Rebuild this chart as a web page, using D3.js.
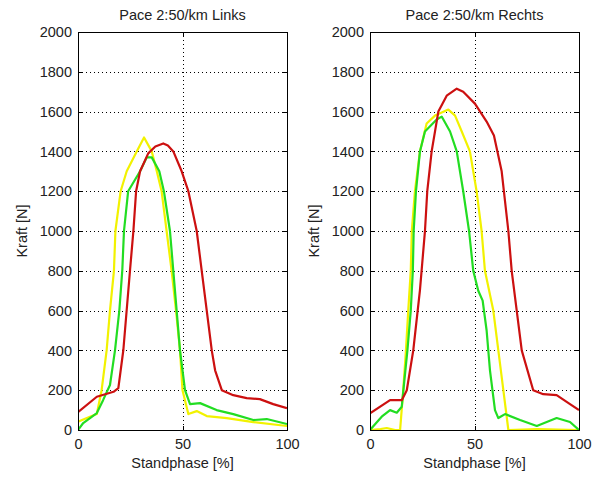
<!DOCTYPE html>
<html lang="de">
<head>
<meta charset="UTF-8"/>
<title>Pace 2:50/km</title>
<script src="https://d3js.org/d3.v7.min.js"></script>
<style>
  body { margin: 0; background: #fff; }
  text { font-family: "Liberation Sans", Arial, sans-serif; font-size: 14.5px; fill: #222; }
  .frame { fill: none; stroke: #000; stroke-width: 1; shape-rendering: crispEdges; }
  .grid line { stroke: #000; stroke-dasharray: 1, 3; shape-rendering: crispEdges; }
  .grid path { display: none; }
  .axis path { display: none; }
  .axis line { stroke: #000; shape-rendering: crispEdges; }
  .curve { fill: none; stroke-width: 2.2; stroke-linejoin: round; }
</style>
</head>
<body>
<script>
// values: [Standphase %, Kraft N]
const linksRot = [[0,90],[9,167],[17,192],[19.3,210],[21.7,402],[24.9,804],[26.5,1000],[27.8,1200],[29.7,1300],[33.6,1390],[37,1425],[40.8,1440],[43,1430],[45.6,1400],[49.6,1300],[52.8,1200],[56.8,1000],[59.2,800],[61.6,600],[64,400],[65.6,300],[68.8,200],[74.3,175],[80.7,160],[87,155],[93.4,130],[100,110]]
const linksGruen = [[0,0],[2.5,35],[9,85],[12,150],[15.3,226],[17.7,400],[19.8,603],[21.2,804],[22,1000],[24,1200],[29.7,1300],[32.9,1370],[35.3,1370],[38.9,1300],[41.1,1200],[44,1000],[45.6,800],[47.2,600],[48.8,400],[51.2,200],[53.6,130],[58.4,135],[66.3,100],[74.3,80],[83.9,50],[90.3,55],[100,30]]
const linksGelb = [[0,42],[5.7,67],[9,80],[11.3,200],[13.7,400],[15.3,600],[17.2,800],[17.9,1000],[20.4,1200],[23.3,1300],[28.1,1400],[31.6,1470],[35.3,1400],[37.7,1300],[40,1200],[42.4,1000],[44.8,800],[46.9,600],[48.8,400],[50,200],[52.8,80],[56.8,95],[61.6,70],[71.2,60],[83.9,40],[100,20]]

const rechtsRot = [[0,84],[9.6,150],[15.2,150],[17.6,200],[20.7,400],[23.9,703],[26.3,1000],[27.4,1200],[29.5,1400],[32.7,1600],[36.7,1680],[41.5,1715],[44.6,1700],[50.2,1640],[55.8,1550],[59.3,1480],[63,1300],[66.2,1000],[67.8,800],[70.2,600],[72.6,400],[78.1,200],[82.9,180],[89.3,175],[95.7,130],[100,100]]
const rechtsGruen = [[0,0],[5.6,67],[9.6,100],[12.8,87],[15.2,117],[16.3,234],[17.9,400],[19.5,600],[20.5,800],[20.9,1000],[22,1200],[23.9,1400],[26.3,1500],[31.9,1560],[34.3,1575],[38.3,1500],[41.5,1400],[44.6,1200],[47.4,1000],[49.4,800],[51.8,700],[53.9,650],[55.8,500],[57.4,300],[59.8,100],[61.4,60],[64.6,80],[71.8,50],[79.8,20],[89.3,60],[95.7,40],[100,0]]
const rechtsGelb = [[0,0],[5,5],[8,10],[12,0],[14.4,0],[15.9,200],[17.2,400],[18.3,600],[19.5,800],[20,1000],[21.5,1200],[23.9,1400],[27.1,1540],[31.1,1580],[37.5,1610],[40.7,1580],[43.9,1500],[47.8,1400],[51,1200],[53.4,1000],[55,800],[59,600],[61.4,400],[63.8,200],[66.2,0],[80,5],[100,0]]

const xTicks = [0, 50, 100]
const yTicks = [0, 200, 400, 600, 800, 1000, 1200, 1400, 1600, 1800, 2000]
const colours = { gelb: "#f2f200", gruen: "#22dd22", rot: "#cc1010" }

const panels = [
  { title: "Pace 2:50/km Links", left: 78, series: [["gelb", linksGelb], ["gruen", linksGruen], ["rot", linksRot]] },
  { title: "Pace 2:50/km Rechts", left: 370, series: [["gelb", rechtsGelb], ["gruen", rechtsGruen], ["rot", rechtsRot]] }
]

const plotTop = 32, width = 209, height = 398

const svg = d3.select("body").append("svg")
    .attr("width", 598)
    .attr("height", 477)

panels.forEach((p, i) => {
  const x = d3.scaleLinear().domain([0, 100]).range([0, width])
  const y = d3.scaleLinear().domain([0, 2000]).range([height, 0])

  const g = svg.append("g").attr("transform", `translate(${p.left}, ${plotTop})`)

  g.append("clipPath").attr("id", "clip" + i)
    .append("rect").attr("width", width).attr("height", height)

  // dotted grid
  g.append("g").attr("class", "grid")
      .call(d3.axisLeft(y).tickValues(yTicks.slice(1, -1)).tickSize(-width).tickFormat(""))
  g.append("g").attr("class", "grid")
      .call(d3.axisBottom(x).tickValues([50]).tickSize(height).tickFormat(""))

  const line = d3.line().x(d => x(d[0])).y(d => y(d[1]))
  g.append("g").attr("clip-path", `url(#clip${i})`)
    .selectAll("path")
    .data(p.series)
    .join("path")
      .attr("class", "curve")
      .attr("stroke", d => colours[d[0]])
      .attr("d", d => line(d[1]))

  // axes with inward ticks
  g.append("g").attr("class", "axis")
      .call(d3.axisLeft(y).tickValues(yTicks).tickSize(-4).tickPadding(6).tickFormat(d3.format("d")))
  g.append("g").attr("class", "axis")
      .attr("transform", `translate(${width}, 0)`)
      .call(d3.axisRight(y).tickValues(yTicks).tickSize(-4).tickFormat(""))
  g.append("g").attr("class", "axis")
      .attr("transform", `translate(0, ${height})`)
      .call(d3.axisBottom(x).tickValues(xTicks).tickSize(-4).tickPadding(9).tickFormat(d3.format("d")))
  g.append("g").attr("class", "axis")
      .call(d3.axisTop(x).tickValues(xTicks).tickSize(-4).tickFormat(""))
  g.selectAll(".axis text").style("font-size", "14.5px").attr("fill", "#222")

  g.append("rect").attr("class", "frame")
      .attr("width", width).attr("height", height)

  g.append("text")
      .attr("x", width / 2).attr("y", -12)
      .attr("text-anchor", "middle")
      .text(p.title)

  g.append("text")
      .attr("x", width / 2).attr("y", height + 38)
      .attr("text-anchor", "middle")
      .text("Standphase [%]")

  g.append("text")
      .attr("transform", `translate(-51, ${height / 2}) rotate(-90)`)
      .attr("text-anchor", "middle")
      .text("Kraft [N]")
})
</script>
</body>
</html>
